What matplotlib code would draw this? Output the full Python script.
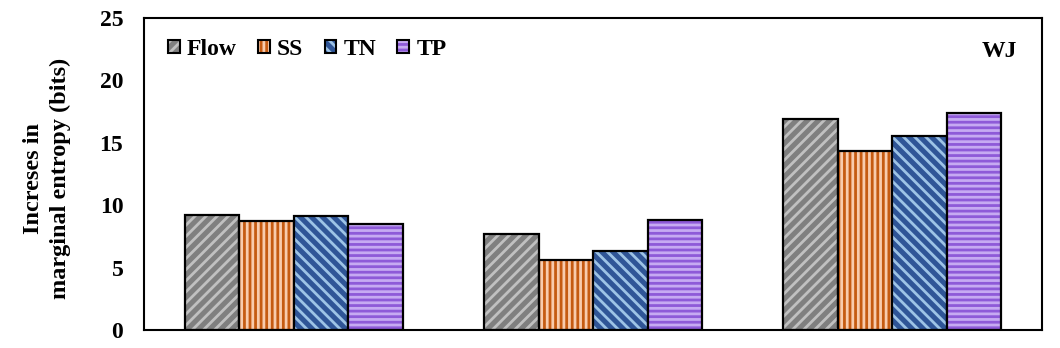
import matplotlib
matplotlib.use("Agg")
import matplotlib.pyplot as plt
from matplotlib.patches import Rectangle
from matplotlib.legend_handler import HandlerTuple
import numpy as np

series = ["Flow", "SS", "TN", "TP"]
groups = ["G1", "G2", "G3"]
flow = [9.24, 7.72, 16.93]
ss = [8.71, 5.61, 14.37]
tn = [9.16, 6.33, 15.57]
tp = [8.49, 8.85, 17.41]
values = [flow, ss, tn, tp]

faces = ["#7f7f7f", "#c55a11", "#2f5597", "#8e5ad8"]
hatch_cols = ["#c0c0c0", "#f8cbad", "#9dc3e6", "#c6aaf2"]
hatches = ["///", "|||", "\\\\\\", "---"]

plt.rcParams["font.family"] = ["Liberation Serif", "DejaVu Serif"]
plt.rcParams["font.weight"] = "bold"
plt.rcParams["hatch.linewidth"] = 2.0

fig = plt.figure(figsize=(10.6, 3.48), dpi=100)
ax = fig.add_axes([0.136, 0.052, 0.847, 0.896])

x = np.arange(len(groups))
w = 0.182
handles = []
for i, (vals, fc, hc, h) in enumerate(zip(values, faces, hatch_cols, hatches)):
    pos = x + (i - 1.5) * w
    ax.bar(pos, vals, w, color=fc, edgecolor=hc, hatch=h, linewidth=0)
    ax.bar(pos, vals, w, fill=False, edgecolor="black", linewidth=1.6)
    h1 = Rectangle((0, 0), 1, 1, facecolor=fc, edgecolor=hc, hatch=h, linewidth=0)
    h2 = Rectangle((0, 0), 1, 1, fill=False, edgecolor="black", linewidth=1.5)
    handles.append((h1, h2))

ax.set_xlim(-0.5, 2.5)
ax.set_ylim(0, 25)
ax.set_yticks([0, 5, 10, 15, 20, 25])
ax.set_xticks([])
ax.tick_params(axis="y", length=0, labelsize=17, pad=15)
for lab in ax.get_yticklabels():
    lab.set_fontweight("bold")
for s in ax.spines.values():
    s.set_linewidth(1.5)
ax.set_ylabel("Increses in\nmarginal entropy (bits)", fontsize=17.5, fontweight="bold",
              linespacing=1.3)
ax.yaxis.set_label_coords(-0.082, 0.486)

leg = ax.legend(handles, series, loc="center left", ncol=4, frameon=False,
                prop={"size": 17, "weight": "bold"}, handlelength=0.5, handleheight=0.5,
                handletextpad=0.3, columnspacing=0.9, borderpad=0, borderaxespad=0,
                bbox_to_anchor=(0.0267, 0.90),
                handler_map={tuple: HandlerTuple(ndivide=1)})
ax.text(0.972, 0.893, "WJ", transform=ax.transAxes, ha="right", va="center",
        fontsize=17, fontweight="bold")

fig.savefig("out.png", dpi=100)
